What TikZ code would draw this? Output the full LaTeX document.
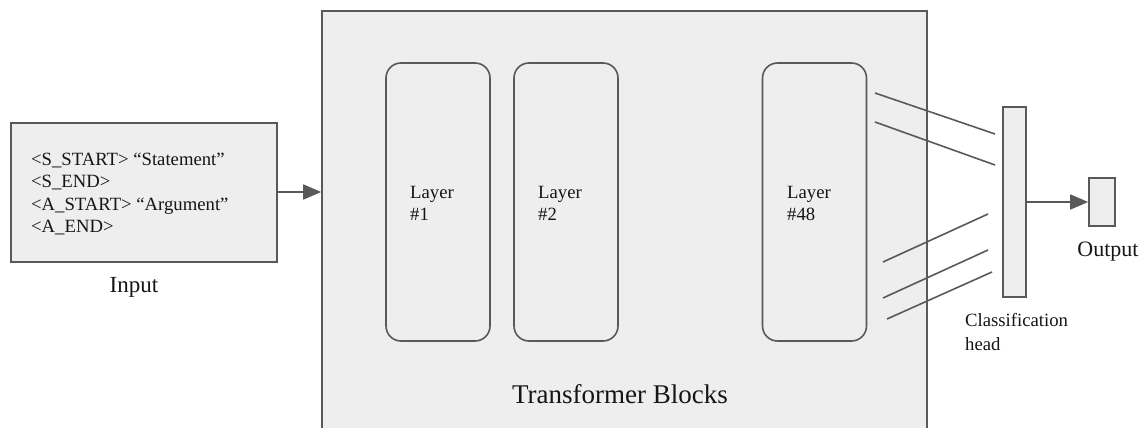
\documentclass[tikz,border=0pt]{standalone}
\usepackage{fontspec}
\setmainfont{Liberation Serif}
\usepackage{xcolor}
\usetikzlibrary{arrows.meta, positioning}

\definecolor{boxfill}{HTML}{EEEEEE}
\definecolor{boxline}{HTML}{595959}
\definecolor{txt}{HTML}{151515}

\begin{document}
\begin{tikzpicture}[
        x=1pt, y=-1pt,
        every node/.style={text=txt},
        block/.style={draw=boxline, fill=boxfill, line width=1.6pt, inner sep=0pt},
        layer/.style={block, rounded corners=15pt, minimum width=104pt, minimum height=278pt},
        label/.style={inner sep=0pt, align=left, font=\fontsize{18.7}{22.5}\selectfont},
        arr/.style={draw=boxline, line width=1.6pt, -{Triangle[length=18pt, width=15pt]}},
        feed/.style={draw=boxline, line width=1.6pt}
    ]
    \useasboundingbox (0,0) rectangle (1143,428);

    % input
    \node[block, minimum width=266pt, minimum height=139pt] (inp) at (144,192.5) {};
    \node[label, anchor=west] (inptext) at (31,194)
        {<S\_START> “Statement”\\<S\_END>\\<A\_START> “Argument”\\<A\_END>};
    \node[inner sep=0pt, font=\fontsize{23}{26}\selectfont] (inplabel) at (134,287) {Input};

    % transformer blocks
    \node[block, minimum width=605pt, minimum height=429pt] (tb) at (624.5,225.5) {};
    \node[inner sep=0pt, font=\fontsize{27}{30}\selectfont] (tblabel) at (620,394) {Transformer Blocks};
    \node[layer] (L1) at (438,202) {};
    \node[layer] (L2) at (566,202) {};
    \node[layer] (L48) at (814.5,202) {};
    \node[label, anchor=west] (L1text) at (410,203.5) {Layer\\\#1};
    \node[label, anchor=west] (L2text) at (538,203.5) {Layer\\\#2};
    \node[label, anchor=west] (L48text) at (787,203.5) {Layer\\\#48};

    \draw[arr] (inp.east |- 0,192) -- (tb.west |- 0,192);

    % classification head
    \node[block, minimum width=23pt, minimum height=190pt] (head) at (1014.5,202) {};
    \node[label, anchor=north west, font=\fontsize{18.7}{24}\selectfont] (headtext) at (965,313) {Classification\\head};
    \node[block, minimum width=26pt, minimum height=48pt] (out) at (1102,202) {};
    \node[inner sep=0pt, font=\fontsize{22}{26}\selectfont] (outlabel) at (1108,252) {Output};
    \draw[arr] (head.east) -- (out.west);

    \coordinate (a1) at (875,93);  \coordinate (b1) at (995,134);
    \coordinate (a2) at (875,122); \coordinate (b2) at (995,165);
    \coordinate (a3) at (883,262); \coordinate (b3) at (988,214);
    \coordinate (a4) at (883,298); \coordinate (b4) at (988,250);
    \coordinate (a5) at (887,319); \coordinate (b5) at (992,272);
    \foreach \i in {1,...,5}
        \draw[feed] (a\i) -- (b\i);

\end{tikzpicture}
\end{document}
